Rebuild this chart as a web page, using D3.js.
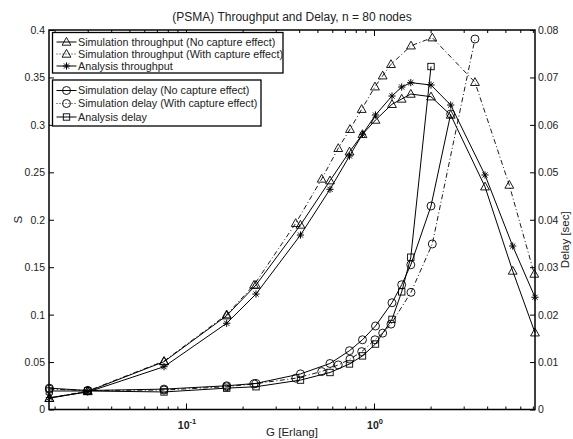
<!DOCTYPE html>
<html><head><meta charset="utf-8">
<script src="https://cdn.jsdelivr.net/npm/d3@7/dist/d3.min.js"></script>
<style>
body{margin:0;background:#fff;}
svg{display:block;font-family:"Liberation Sans",Arial,sans-serif;}
</style></head>
<body><svg id="c" width="573" height="439"></svg>
<script>
// ---- data ----
const G_nc = [0.01875,0.0300,0.0764,0.1646,0.2357,0.4064,0.5834,0.7408,0.8686,1.0185,1.2468,1.4041,1.5694,2.0105,2.5586,3.8950,5.4683,7.186];
const G_c  = [0.01875,0.0300,0.0764,0.1646,0.2300,0.3834,0.5270,0.6456,0.7452,0.8602,1.0123,1.1124,1.2313,1.5733,2.0427,3.4448,5.2446,7.1255];
const S_sim_nc = [0.0118,0.0190,0.0504,0.0989,0.1312,0.1945,0.2412,0.2717,0.2900,0.3051,0.3217,0.3273,0.3325,0.3297,0.3104,0.2348,0.1460,0.0809];
const S_sim_c  = [0.0120,0.0195,0.0510,0.1000,0.1312,0.1963,0.2430,0.2753,0.2954,0.3165,0.3402,0.3518,0.3638,0.3834,0.3919,0.3449,0.2366,0.1428];
const S_an     = [0.0125,0.0184,0.0451,0.0909,0.1217,0.1839,0.2321,0.2672,0.2901,0.3104,0.3304,0.3399,0.3445,0.3420,0.3209,0.2472,0.1723,0.1183];
const D_sim_nc = [0.0045,0.0040,0.0043,0.0050,0.0055,0.0075,0.0097,0.0124,0.0147,0.0176,0.0225,0.0263,0.0305,0.0429,0.0623];
const D_sim_c  = [0.0043,0.0040,0.0041,0.0048,0.0054,0.0066,0.0080,0.0094,0.0106,0.0122,0.0147,0.0161,0.0180,0.0247,0.0349,0.0781];
const D_an     = [0.0039,0.0039,0.0037,0.0045,0.0048,0.0062,0.0078,0.0096,0.0113,0.0138,0.0190,0.0248,0.0321,0.0723];
const sTicks = [0,0.05,0.1,0.15,0.2,0.25,0.3,0.35,0.4];
const dTicks = [0,0.01,0.02,0.03,0.04,0.05,0.06,0.07,0.08];
const xMajor = [0.1,1];
const xMajorLabels = [["10","-1"],["10","0"]];
const legend1 = ["Simulation throughput (No capture effect)","Simulation throughput (With capture effect)","Analysis throughput"];
const legend2 = ["Simulation delay (No capture effect)","Simulation delay (With capture effect)","Analysis delay"];
const title = "(PSMA) Throughput and Delay, n = 80 nodes";

// ---- layout ----
const L=49, R=535, T=30, B=409.5;
const svg = d3.select("#c");
const x = d3.scaleLog().domain([0.018674,7.186]).range([L,R]);
const yS = d3.scaleLinear().domain([0,0.4]).range([B,T]);
const yD = d3.scaleLinear().domain([0,0.08]).range([B,T]);
const txt = "#222";
const DASH = "5,2.5,1,2.5";

// minor ticks
const xMinor=[];
[0.01,0.1,1].forEach(d=>{for(let k=2;k<=9;k++){const v=d*k; if(v>=0.018674&&v<=7.186) xMinor.push(v);}});

// axes
const gx = svg.append("g").attr("transform",`translate(0,${B})`);
gx.call(d3.axisBottom(x).tickValues(xMinor).tickSize(-3).tickFormat(""));
gx.append("g").call(d3.axisBottom(x).tickValues(xMajor).tickSize(-6).tickFormat(""));
const gxt = svg.append("g").attr("transform",`translate(0,${T})`);
gxt.call(d3.axisTop(x).tickValues(xMinor).tickSize(-3).tickFormat(""));
gxt.append("g").call(d3.axisTop(x).tickValues(xMajor).tickSize(-6).tickFormat(""));
svg.selectAll(".domain").remove();

xMajor.forEach((v,i)=>{
  const t = svg.append("text").attr("x",x(v)+1).attr("y",B+19).attr("text-anchor","middle")
    .attr("font-size",10.5).attr("fill",txt).attr("font-weight","bold");
  t.append("tspan").text(xMajorLabels[i][0]);
  t.append("tspan").attr("dy",-5).attr("font-size",7.5).text(xMajorLabels[i][1]);
});

const gyl = svg.append("g").attr("transform",`translate(${L},0)`)
  .call(d3.axisLeft(yS).tickValues(sTicks).tickSize(-5).tickPadding(4).tickFormat(d=>d3.format("")(+d.toFixed(2))));
const gyr = svg.append("g").attr("transform",`translate(${R},0)`)
  .call(d3.axisRight(yD).tickValues(dTicks).tickSize(-5).tickPadding(3).tickFormat(d=>d3.format("")(+d.toFixed(2))));
[gyl,gyr].forEach(g=>{g.select(".domain").remove(); g.selectAll("text").attr("font-size",10.5).attr("fill",txt).attr("font-family","Liberation Sans, Arial, sans-serif");});
svg.selectAll(".tick line").attr("stroke","#000").attr("stroke-width",1);

svg.append("rect").attr("x",L).attr("y",T).attr("width",R-L).attr("height",B-T)
  .attr("fill","none").attr("stroke","#000").attr("stroke-width",1.5);

// labels
svg.append("text").attr("x",292).attr("y",21).attr("text-anchor","middle").attr("font-size",12).attr("fill",txt).text(title);
svg.append("text").attr("x",292).attr("y",436).attr("text-anchor","middle").attr("font-size",11.5).attr("fill",txt).text("G [Erlang]");
svg.append("text").attr("transform",`translate(22,${(T+B)/2}) rotate(-90)`).attr("text-anchor","middle").attr("font-size",11.5).attr("fill",txt).text("S");
svg.append("text").attr("transform",`translate(569,${(T+B)/2+20}) rotate(-90)`).attr("text-anchor","middle").attr("font-size",11.5).attr("fill",txt).text("Delay [sec]");

// markers
function marker(g,type,cx,cy){
  if(type==="tri"){
    g.append("path").attr("d",`M${cx},${cy-4.6}L${cx+4.4},${cy+3.2}L${cx-4.4},${cy+3.2}Z`).attr("fill","none").attr("stroke","#000").attr("stroke-width",0.9);
  } else if(type==="circ"){
    g.append("circle").attr("cx",cx).attr("cy",cy).attr("r",4).attr("fill","none").attr("stroke","#000").attr("stroke-width",0.9);
  } else if(type==="sq"){
    g.append("rect").attr("x",cx-3.2).attr("y",cy-3.2).attr("width",6.4).attr("height",6.4).attr("fill","none").attr("stroke","#000").attr("stroke-width",0.9);
  } else if(type==="ast"){
    const r=3.6, q=r*0.7071;
    g.append("path").attr("d",`M${cx-r},${cy}H${cx+r}M${cx},${cy-r}V${cy+r}M${cx-q},${cy-q}L${cx+q},${cy+q}M${cx-q},${cy+q}L${cx+q},${cy-q}`)
      .attr("stroke","#000").attr("stroke-width",1);
  }
}

const series = [
  {G:G_nc, v:S_sim_nc, y:yS, type:"tri", dash:null},
  {G:G_c,  v:S_sim_c,  y:yS, type:"tri", dash:DASH},
  {G:G_nc, v:S_an,     y:yS, type:"ast", dash:null},
  {G:G_nc, v:D_sim_nc, y:yD, type:"circ", dash:null},
  {G:G_c,  v:D_sim_c,  y:yD, type:"circ", dash:DASH},
  {G:G_nc, v:D_an,     y:yD, type:"sq", dash:null}
];
const gl = svg.append("g");
const gm = svg.append("g");
series.forEach(s=>{
  const pts = s.v.map((v,i)=>[x(s.G[i]), s.y(v)]);
  gl.append("path").attr("d",d3.line()(pts)).attr("fill","none").attr("stroke","#000")
    .attr("stroke-width",s.dash?0.9:1).attr("stroke-dasharray",s.dash);
  pts.forEach(p=>marker(gm,s.type,p[0],p[1]));
});

// legends
function legend(x0,y0,w,h,rows,labels,types,dashes){
  const g = svg.append("g");
  g.append("rect").attr("x",x0).attr("y",y0).attr("width",w).attr("height",h).attr("fill","#fff").attr("stroke","#000").attr("stroke-width",1.3);
  labels.forEach((lab,i)=>{
    const yy = rows[i];
    g.append("line").attr("x1",x0+4).attr("x2",x0+24).attr("y1",yy).attr("y2",yy).attr("stroke","#000").attr("stroke-width",dashes[i]?0.9:1).attr("stroke-dasharray",dashes[i]?"1,2":null);
    marker(g,types[i],x0+14,yy);
    g.append("text").attr("x",x0+25.5).attr("y",yy+3.9).attr("font-size",10.8).attr("fill",txt).text(lab);
  });
}
legend(52.5,32.5,230.5,40.5,[42,54,66],legend1,["tri","tri","ast"],[null,DASH,null]);
legend(52.5,80,208.5,46,[90.5,103.5,117],legend2,["circ","circ","sq"],[null,DASH,null]);
</script></body></html>
